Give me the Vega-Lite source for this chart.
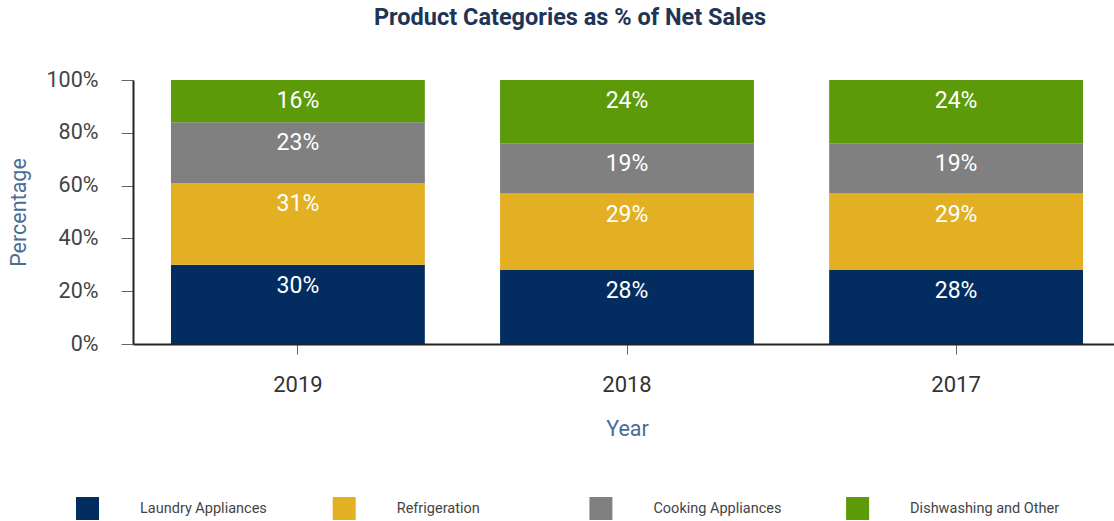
{
  "$schema": "https://vega.github.io/schema/vega-lite/v6.json",
  "autosize": {"type": "none"},
  "padding": {"left": 133, "top": 80, "right": 0, "bottom": 177},
  "width": 988,
  "height": 264,
  "background": "white",
  "title": {
    "text": "Product Categories as % of Net Sales",
    "font": "Roboto",
    "fontSize": 23.5,
    "fontWeight": "bold",
    "color": "#1d3557",
    "anchor": "middle",
    "dx": -57,
    "offset": 40
  },
  "data": {
    "values": [
      {"year": "2019", "category": "Laundry Appliances", "rank": 1, "value": 0.30},
      {"year": "2019", "category": "Refrigeration", "rank": 2, "value": 0.31},
      {"year": "2019", "category": "Cooking Appliances", "rank": 3, "value": 0.23},
      {"year": "2019", "category": "Dishwashing and Other", "rank": 4, "value": 0.16},
      {"year": "2018", "category": "Laundry Appliances", "rank": 1, "value": 0.28},
      {"year": "2018", "category": "Refrigeration", "rank": 2, "value": 0.29},
      {"year": "2018", "category": "Cooking Appliances", "rank": 3, "value": 0.19},
      {"year": "2018", "category": "Dishwashing and Other", "rank": 4, "value": 0.24},
      {"year": "2017", "category": "Laundry Appliances", "rank": 1, "value": 0.28},
      {"year": "2017", "category": "Refrigeration", "rank": 2, "value": 0.29},
      {"year": "2017", "category": "Cooking Appliances", "rank": 3, "value": 0.19},
      {"year": "2017", "category": "Dishwashing and Other", "rank": 4, "value": 0.24}
    ]
  },
  "encoding": {
    "x": {
      "field": "year",
      "type": "nominal",
      "sort": ["2019", "2018", "2017"],
      "scale": {"paddingInner": 0.2286, "paddingOuter": 0.1154},
      "axis": {
        "title": "Year",
        "labelAngle": 0,
        "labelFont": "Roboto",
        "labelFontSize": 22,
        "labelColor": "#333333",
        "labelPadding": 20,
        "tickSize": 10,
        "tickColor": "#666666",
        "domainColor": "#222222",
        "domainWidth": 2,
        "titleFont": "Roboto",
        "titleFontSize": 21.5,
        "titleFontWeight": "normal",
        "titleColor": "#4a6d95",
        "titlePadding": 23
      }
    },
    "y": {
      "field": "value",
      "type": "quantitative",
      "stack": "zero",
      "scale": {"domain": [0, 1]},
      "axis": {
        "title": "Percentage",
        "format": ".0%",
        "values": [0, 0.2, 0.4, 0.6, 0.8, 1],
        "grid": false,
        "labelFont": "Roboto",
        "labelFontSize": 21.5,
        "labelColor": "#444444",
        "labelPadding": 23,
        "tickSize": 12,
        "tickColor": "#666666",
        "domainColor": "#222222",
        "domainWidth": 2,
        "titleFont": "Roboto",
        "titleFontSize": 21.5,
        "titleFontWeight": "normal",
        "titleColor": "#4a6d95",
        "titlePadding": 16
      }
    },
    "order": {"field": "rank", "type": "quantitative", "sort": "ascending"}
  },
  "layer": [
    {
      "mark": {"type": "bar"},
      "encoding": {
        "color": {
          "field": "category",
          "type": "nominal",
          "sort": ["Laundry Appliances", "Refrigeration", "Cooking Appliances", "Dishwashing and Other"],
          "scale": {
            "domain": ["Laundry Appliances", "Refrigeration", "Cooking Appliances", "Dishwashing and Other"],
            "range": ["#032d61", "#e2b022", "#808080", "#5c9a0a"]
          },
          "legend": {
            "title": null,
            "orient": "none",
            "legendX": -57,
            "legendY": 417,
            "direction": "horizontal",
            "columns": 4,
            "gridAlign": "all",
            "columnPadding": 42.7,
            "symbolType": "square",
            "symbolSize": 529,
            "symbolStrokeWidth": 0,
            "labelOffset": 41,
            "labelFont": "Roboto",
            "labelFontSize": 14.5,
            "labelColor": "#444444",
            "labelLimit": 300
          }
        }
      }
    },
    {
      "mark": {
        "type": "text",
        "font": "Roboto",
        "fontSize": 23,
        "color": "white",
        "baseline": "middle",
        "dy": 21
      },
      "encoding": {
        "detail": {"field": "category", "type": "nominal"},
        "text": {"field": "value", "type": "quantitative", "format": ".0%"}
      }
    }
  ],
  "config": {"view": {"stroke": null}}
}
